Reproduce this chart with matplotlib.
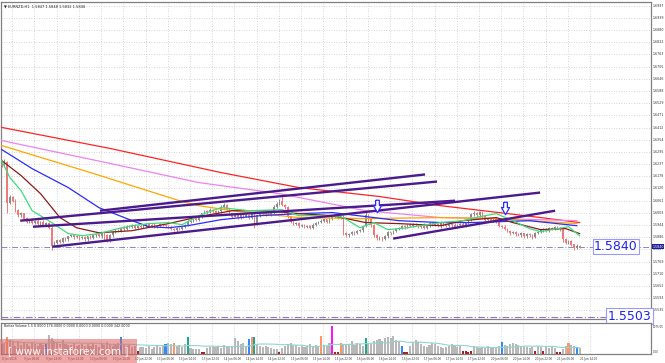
import numpy as np
import pandas as pd
import matplotlib
matplotlib.use("Agg")
import matplotlib.pyplot as plt
from matplotlib.path import Path

# EURNZD H1 candles, 8 Jun 2016 .. 21 Jun 2016 14:00
closes = [1.6230, 1.6245, 1.6050, 1.6080, 1.6060, 1.6015, 1.5990, 1.6000, 1.5975, 1.5960,
          1.5970, 1.5955, 1.5965, 1.5950, 1.5960, 1.5945, 1.5955, 1.5930, 1.5845, 1.5860,
          1.5870, 1.5865, 1.5880, 1.5875, 1.5890, 1.5895, 1.5885, 1.5890, 1.5880, 1.5885,
          1.5875, 1.5890, 1.5880, 1.5895, 1.5900, 1.5890, 1.5905, 1.5895, 1.5870, 1.5895,
          1.5910, 1.5920, 1.5915, 1.5930, 1.5925, 1.5940, 1.5935, 1.5945, 1.5930, 1.5940,
          1.5935, 1.5945, 1.5950, 1.5940, 1.5945, 1.5935, 1.5940, 1.5950, 1.5945, 1.5940,
          1.5935, 1.5925, 1.5920, 1.5930, 1.5925, 1.5935, 1.5945, 1.5960, 1.5965, 1.5975,
          1.5970, 1.5985, 1.6000, 1.6010, 1.6005, 1.6015, 1.6010, 1.6000, 1.6010, 1.6030,
          1.6040, 1.6020, 1.6000, 1.5985, 1.5990, 1.5980, 1.5995, 1.5985, 1.5990, 1.5980,
          1.5995, 1.5950, 1.5990, 1.6000, 1.5995, 1.6005, 1.5995, 1.6000, 1.6030, 1.6045,
          1.6060, 1.6040, 1.6030, 1.5985, 1.5960, 1.5950, 1.5955, 1.5940, 1.5945, 1.5935,
          1.5940, 1.5930, 1.5945, 1.5955, 1.5960, 1.5965, 1.5970, 1.5960, 1.5975, 1.5985,
          1.5990, 1.5980, 1.5985, 1.5905, 1.5895, 1.5900, 1.5910, 1.5905, 1.5915, 1.5920,
          1.5940, 1.5990, 1.5970, 1.5945, 1.5895, 1.5880, 1.5885, 1.5875, 1.5890, 1.5910,
          1.5905, 1.5915, 1.5925, 1.5930, 1.5940, 1.5935, 1.5945, 1.5940, 1.5950, 1.5945,
          1.5935, 1.5945, 1.5930, 1.5940, 1.5955, 1.5945, 1.5950, 1.5940, 1.5955, 1.5945,
          1.5940, 1.5950, 1.5945, 1.5935, 1.5945, 1.5950, 1.5940, 1.5955, 1.5970, 1.5995,
          1.6000, 1.5990, 1.6005, 1.5985, 1.5970, 1.5975, 1.5965, 1.5970, 1.5960, 1.5940,
          1.5935, 1.5925, 1.5915, 1.5905, 1.5910, 1.5900, 1.5895, 1.5905, 1.5890, 1.5900,
          1.5895, 1.5885, 1.5905, 1.5910, 1.5920, 1.5925, 1.5915, 1.5930, 1.5925, 1.5935,
          1.5930, 1.5925, 1.5875, 1.5860, 1.5865, 1.5850, 1.5835, 1.5845, 1.5840]
first_open = 1.6235

# wicks in pips above / below the body
wick_up = [6, 18, 7, 9, 4, 8, 5, 7, 4, 6, 5, 7, 4, 8, 5, 6, 3, 6, 9, 7,
           4, 6, 7, 5, 3, 6, 5, 4, 7, 6, 5, 3, 6, 8, 4, 5, 7, 4, 6, 5,
           6, 7, 4, 5, 8, 5, 3, 6, 5, 4, 7, 5, 4, 6, 5, 8, 4, 5, 6, 3,
           4, 6, 7, 3, 5, 6, 5, 8, 4, 5, 6, 5, 4, 7, 5, 9, 5, 6, 4, 8,
           12, 6, 5, 4, 7, 5, 3, 6, 5, 4, 6, 7, 4, 5, 6, 5, 3, 7, 9, 8,
           10, 26, 6, 5, 4, 7, 5, 3, 6, 5, 4, 6, 7, 5, 3, 6, 5, 4, 7, 6,
           7, 5, 4, 9, 6, 5, 4, 7, 5, 3, 6, 27, 6, 5, 4, 6, 8, 4, 5, 6,
           3, 5, 7, 5, 4, 6, 5, 8, 4, 5, 6, 4, 7, 5, 4, 6, 5, 3, 7, 5,
           4, 6, 5, 7, 4, 5, 8, 4, 6, 9, 10, 6, 5, 4, 7, 5, 3, 6, 5, 4,
           5, 7, 4, 5, 6, 4, 5, 6, 3, 4, 5, 6, 4, 7, 6, 5, 4, 6, 5, 4,
           5, 6, 8, 5, 6, 5, 4, 6, 5]
wick_dn = [5, 6, 48, 7, 6, 8, 5, 6, 7, 5, 6, 5, 7, 4, 6, 5, 7, 6, 20, 8,
           6, 7, 5, 6, 8, 4, 6, 5, 7, 4, 6, 8, 5, 4, 7, 5, 6, 22, 5, 6,
           7, 5, 6, 4, 8, 6, 5, 4, 7, 6, 5, 6, 8, 4, 5, 7, 6, 5, 4, 6,
           7, 5, 6, 8, 4, 6, 5, 6, 7, 5, 6, 7, 5, 4, 6, 5, 7, 8, 4, 6,
           5, 6, 8, 5, 4, 7, 5, 6, 4, 7, 6, 20, 5, 6, 4, 7, 5, 6, 5, 4,
           6, 5, 8, 6, 7, 5, 6, 8, 5, 6, 7, 5, 6, 4, 8, 6, 5, 7, 4, 6,
           5, 6, 8, 10, 7, 6, 5, 8, 6, 5, 7, 5, 6, 8, 9, 7, 6, 8, 5, 6,
           7, 6, 5, 4, 6, 8, 5, 6, 7, 5, 6, 7, 5, 6, 4, 7, 6, 5, 8, 6,
           5, 6, 8, 7, 4, 6, 5, 7, 4, 5, 6, 5, 7, 6, 8, 5, 6, 4, 7, 6,
           6, 7, 5, 8, 6, 7, 5, 6, 8, 7, 6, 8, 5, 6, 4, 7, 5, 6, 4, 5,
           6, 8, 10, 7, 6, 8, 12, 6, 5]

volumes = [420, 380, 660, 520, 450, 300, 480, 350, 420, 390,
           320, 450, 380, 300, 410, 360, 380, 730, 620, 500,
           450, 380, 520, 400, 330, 360, 420, 300, 350, 400,
           310, 380, 290, 420, 350, 280, 400, 330, 460, 380,
           300, 350, 420, 660, 380, 290, 340, 250, 300, 130,
           250, 280, 240, 300, 210, 260, 320, 280, 350, 380,
           420, 400, 420, 300, 350, 280, 380, 660, 220, 200,
           190, 210, 90, 70, 240, 280, 320, 260, 300, 220,
           350, 280, 320, 300, 600, 480, 380, 420, 300, 590,
           650, 660, 380, 320, 260, 300, 280, 240, 200, 180,
           90, 220, 300, 380, 420, 330, 360, 280, 320, 250,
           300, 390, 270, 340, 280, 695, 350, 320, 420, 1075,
           90, 90, 420, 330, 380, 400, 480, 350, 420, 380,
           300, 630, 420, 380, 500, 520, 560, 480, 600, 650,
           620, 700, 540, 480, 316, 90, 80, 300, 420, 520,
           460, 380, 300, 260, 350, 420, 380, 300, 280, 240,
           260, 320, 400, 350, 280, 300, 100, 110, 90, 100,
           300, 250, 220, 260, 240, 300, 280, 260, 220, 300,
           470, 350, 320, 380, 420, 380, 330, 280, 300, 260,
           240, 280, 130, 300, 260, 130, 280, 220, 250, 230,
           90, 90, 200, 300, 420, 330, 300, 250, 220]
vol_orange = [2, 62, 90, 115, 122, 204]
vol_blue = [16, 43, 59, 89, 144, 180, 207]
vol_teal = [67, 91, 131]
vol_magenta = [119]
vol_darkred = [49, 72, 73, 100, 120, 121, 145, 146, 166, 167, 168, 169, 192, 195, 200, 201]

# moving averages (bar index, price)
red_bars = [0, 39, 79, 107, 136, 158, 179, 194, 208]
red_px = [1.6413, 1.6312, 1.6196, 1.6124, 1.6081, 1.6037, 1.6004, 1.5980, 1.5956]
pink_bars = [0, 39, 71, 100, 131, 158, 179, 207]
pink_px = [1.6350, 1.6240, 1.6148, 1.6095, 1.6013, 1.5980, 1.5975, 1.5965]
orange_bars = [0, 32, 64, 71, 83, 107, 131, 158, 179, 207]
orange_px = [1.6326, 1.6196, 1.6061, 1.6037, 1.6013, 1.5980, 1.5975, 1.5980, 1.5975, 1.5951]
blue_bars = [0, 11, 24, 35, 47, 53, 60, 67, 79, 93, 107, 119, 134, 143, 158, 169, 190, 207]
blue_px = [1.6307, 1.6215, 1.6124, 1.6028, 1.5965, 1.5936, 1.5931, 1.5941, 1.5970, 1.5989,
           1.5999, 1.6004, 1.5980, 1.5965, 1.5956, 1.5956, 1.5965, 1.5941]
maroon_bars = [0, 7, 14, 21, 27, 35, 47, 60, 71, 83, 95, 107, 119, 131, 143, 158, 166, 178,
               184, 194, 203, 208]
maroon_px = [1.6254, 1.6182, 1.6095, 1.5980, 1.5931, 1.5907, 1.5917, 1.5951, 1.5984, 1.6013,
             1.6013, 1.5999, 1.5989, 1.5956, 1.5951, 1.5941, 1.5965, 1.5980, 1.5956, 1.5922,
             1.5927, 1.5903]
green_bars = [0, 3, 7, 11, 17, 24, 29, 35, 42, 47, 53, 60, 65, 71, 79, 89, 101, 107, 119, 123,
              129, 134, 139, 146, 158, 166, 172, 178, 184, 190, 194, 200, 204, 208]
green_px = [1.6254, 1.6172, 1.6110, 1.6013, 1.5965, 1.5903, 1.5893, 1.5903, 1.5927, 1.5941,
            1.5951, 1.5956, 1.5946, 1.5989, 1.6028, 1.6013, 1.6018, 1.5989, 1.5989, 1.5980,
            1.5931, 1.5956, 1.5922, 1.5931, 1.5956, 1.5965, 1.5984, 1.5999, 1.5965, 1.5927,
            1.5912, 1.5927, 1.5936, 1.5893]

# trend channel lines: (bar0, price0, bar1, price1)
channels = [(35.4, 1.6013, 152.4, 1.6187),
            (6.7, 1.5965, 156.7, 1.6153),
            (11.3, 1.5936, 163.2, 1.6061),
            (18.2, 1.5840, 193.8, 1.6100),
            (140.9, 1.5879, 199.2, 1.6013)]
arrow_bars = [135, 181]
arrow_px = [1.6037, 1.6028]

level_now = 1.5840
level_target = 1.5503

price_ticks = [1.6997, 1.6939, 1.6880, 1.6822, 1.6763, 1.6705, 1.6646, 1.6588, 1.6529,
               1.6471, 1.6412, 1.6354, 1.6295, 1.6237, 1.6178, 1.6120, 1.6061, 1.6003,
               1.5944, 1.5886, 1.5827, 1.5769, 1.5710, 1.5652, 1.5593, 1.5535]
time_labels = ["8 Jun 2016", "9 Jun 06:00", "9 Jun 14:00", "9 Jun 22:00", "10 Jun 06:00",
               "10 Jun 14:00", "10 Jun 22:00", "13 Jun 06:00", "13 Jun 14:00", "13 Jun 22:00",
               "14 Jun 06:00", "14 Jun 14:00", "14 Jun 22:00", "15 Jun 06:00", "15 Jun 14:00",
               "15 Jun 22:00", "16 Jun 06:00", "16 Jun 14:00", "16 Jun 22:00", "17 Jun 06:00",
               "17 Jun 14:00", "17 Jun 22:00", "20 Jun 06:00", "20 Jun 14:00", "20 Jun 22:00",
               "21 Jun 06:00", "21 Jun 14:00"]

W, H = 665, 363
fig = plt.figure(figsize=(W / 100, H / 100), dpi=100, facecolor="white")

def rect(x0, y0, x1, y1):
    return [x0 / W, 1 - y1 / H, (x1 - x0) / W, (y1 - y0) / H]

ax = fig.add_axes(rect(1, 2, 651, 319))
vax = fig.add_axes(rect(1, 323, 651, 354), sharex=ax)

n = len(closes)
bars = np.arange(n)
c = np.array(closes)
o = np.concatenate([[first_open], c[:-1]])
hi = np.maximum(o, c) + np.array(wick_up) * 0.0001
lo = np.minimum(o, c) - np.array(wick_dn) * 0.0001
up = c >= o
cols = np.where(up, "#8c8c8c", "#f07878")

grid_kw = dict(color="#c8c8c8", lw=0.6, ls=(0, (1, 2)), zorder=0)
for a in (ax, vax):
    a.set_facecolor("white")
    for s in a.spines.values():
        s.set_color("#808080")
        s.set_linewidth(0.9)
    a.tick_params(left=False, right=False, bottom=False, top=False,
                  labelleft=False, labelbottom=False)
    for k in range(len(time_labels)):
        a.axvline(8 * k + 3.8, **grid_kw)
for p in price_ticks:
    ax.axhline(p, **grid_kw)

ax.vlines(bars, lo, hi, colors=cols, lw=0.7, zorder=2)
ax.bar(bars, np.abs(c - o) + 0.00008, bottom=np.minimum(o, c), width=0.55,
       color=cols, zorder=3)

ax.plot(red_bars, red_px, color="#ff2222", lw=0.9, zorder=4)
ax.plot(pink_bars, pink_px, color="#ee82ee", lw=0.9, zorder=4)
ax.plot(orange_bars, orange_px, color="#ffa500", lw=0.9, zorder=4)
ax.plot(blue_bars, blue_px, color="#2a2aff", lw=0.9, zorder=4)
ax.plot(maroon_bars, maroon_px, color="#8b1a1a", lw=0.9, zorder=4)
ax.plot(green_bars, green_px, color="#3ddc7a", lw=0.9, zorder=4)

for b0, p0, b1, p1 in channels:
    ax.plot([b0, b1], [p0, p1], color="#4b1a8c", lw=1.7, solid_capstyle="butt", zorder=5)

arrow = Path([(-0.3, 1), (0.3, 1), (0.3, 0.15), (0.65, 0.15), (0, -1),
              (-0.65, 0.15), (-0.3, 0.15), (-0.3, 1)])
ax.plot(arrow_bars, arrow_px, ls="none", marker=arrow, ms=9, mfc="white",
        mec="#2a2aff", mew=0.9, zorder=6)

ax.axhline(level_now, color="#8888cc", lw=0.7, ls=(0, (6, 2, 1, 2)), zorder=1)
ax.axhline(level_target, color="#9b6fd0", lw=0.8, ls=(0, (6, 2, 1, 2)), zorder=1)
ax.text(221, level_now, "%.4f" % level_now, fontsize=9, color="#2222ee",
        va="center", ha="center", zorder=7,
        bbox=dict(boxstyle="square,pad=0.1", fc="white", ec="#9999ff", lw=0.8))
ax.text(226, level_target + 0.0004, "%.4f" % level_target, fontsize=9, color="#2222ee",
        va="center", ha="center", zorder=7, clip_on=False,
        bbox=dict(boxstyle="square,pad=0.1", fc="white", ec="#9999ff", lw=0.8))

ax.set_xlim(-0.2, 233.7)
ax.set_ylim(1.5493, 1.7015)

# right price scale
for p in price_ticks:
    ax.text(1.003, p, "%.4f" % p, transform=ax.get_yaxis_transform(), fontsize=2.3,
            va="center", ha="left", color="#333333", clip_on=False)
ax.text(1.002, level_now, "%.4f" % level_now, transform=ax.get_yaxis_transform(),
        fontsize=2.3, va="center", ha="left", color="white", clip_on=False,
        bbox=dict(boxstyle="square,pad=0.15", fc="#1c1c9c", ec="none"))

ax.text(0.004, 0.992, "\u25bc EURNZD,H1  1.5847 1.5848 1.5832 1.5840",
        transform=ax.transAxes, fontsize=2.6, va="top", ha="left", color="#222222")

# volume panel
vcols = np.array(["#b8b8b8"] * n, dtype=object)
vcols[vol_orange] = "#ff9466"
vcols[vol_blue] = "#2a8cff"
vcols[vol_teal] = "#1fa890"
vcols[vol_magenta] = "#ff10ff"
vcols[vol_darkred] = "#b01c1c"
vax.bar(bars, volumes, width=0.75, color=list(vcols), zorder=2)
vma = pd.Series(volumes).rolling(20, min_periods=1).mean()
vax.plot(bars, vma, color="#8fd6cc", lw=0.8, zorder=3)
vax.set_ylim(0, 1190)
vax.text(0.004, 0.96, "Better Volume 1.5 0.0000 176.0000 0.0000 0.0000 0.0000 0.0000 342.0000",
         transform=vax.transAxes, fontsize=2.3, va="top", ha="left", color="#222222")
vax.text(1.003, 0.88, "1075.05", transform=vax.transAxes, fontsize=2.0, va="center",
         ha="left", color="#333333", clip_on=False)
vax.text(1.003, 0.06, "0.00", transform=vax.transAxes, fontsize=2.0, va="center",
         ha="left", color="#333333", clip_on=False)

# time axis labels under the volume panel
for k, lab in enumerate(time_labels):
    vax.text(8 * k, -0.1, lab, transform=vax.get_xaxis_transform(), fontsize=2.0,
             va="top", ha="left", color="#333333", clip_on=False)

# watermark
fig.patches.append(plt.Rectangle((0, 0), 137 / W, 24 / H, transform=fig.transFigure,
                                 fc="#e06060", alpha=0.55, ec="none", zorder=10))
fig.text(68 / W, 12 / H, "[ www.instaforex.com ]", fontsize=7.5, color="white",
         ha="center", va="center", alpha=0.9, zorder=11)

fig.savefig("out.png", dpi=100, facecolor="white")
